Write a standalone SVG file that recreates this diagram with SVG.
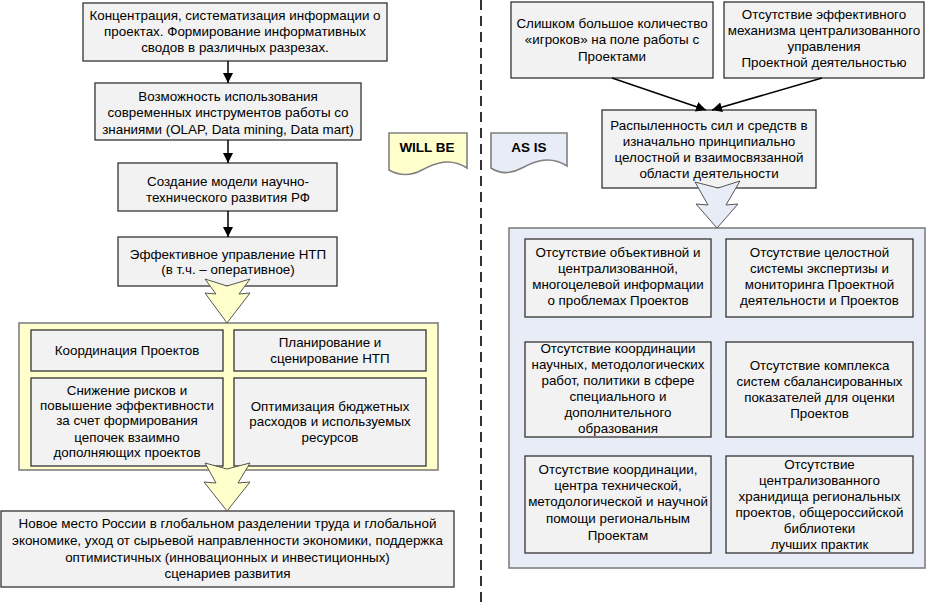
<svg xmlns="http://www.w3.org/2000/svg" width="927" height="607" viewBox="0 0 927 607">
<defs>
<style>
text{font-family:"Liberation Sans",Arial,sans-serif;font-size:13.4px;fill:#000;text-anchor:middle}
.box{fill:#F2F2F2;stroke:#333;stroke-width:1.3}
.ycont{fill:#FFFFCC;stroke:#808080;stroke-width:1.6}
.bcont{fill:#E8ECF6;stroke:#808080;stroke-width:1.6}
.ybig{fill:#FFFFCC;stroke:#555;stroke-width:1}
.bbig{fill:#E8ECF6;stroke:#555;stroke-width:1}
.con{stroke:#000;stroke-width:1.5;fill:none}
.tag{font-weight:bold;font-size:13.5px}
</style>
<marker id="ah" viewBox="0 0 10 10" refX="10" refY="5" markerWidth="10" markerHeight="10" markerUnits="userSpaceOnUse" orient="auto">
<path d="M0,0 L10,5 L0,10 Z" fill="#000"/>
</marker>
</defs>
<rect width="927" height="607" fill="#fff"/>

<line x1="481" y1="0" x2="481" y2="607" stroke="#000" stroke-width="1.6" stroke-dasharray="10,6"/>

<g id="tag-willbe">
<path d="M389,133 H467 V168 C450,157 435,163 422,170 C407,178 396,174 389,170 Z" class="ycont"/>
<text x="427" y="152" class="tag">WILL BE</text>
</g>
<g id="tag-asis">
<path d="M491,133 H567 V166 C550,155 535,161 522,168 C507,176 497,172 491,168 Z" class="bcont"/>
<text x="529" y="152" class="tag">AS IS</text>
</g>

<g id="b1"><rect x="83" y="3" width="304" height="58" class="box"/>
<text x="235" y="20">Концентрация, систематизация информации о</text>
<text x="235" y="36">проектах. Формирование информативных</text>
<text x="235" y="52">сводов в различных разрезах.</text></g>

<g id="b2"><rect x="95" y="83" width="266" height="57" class="box"/>
<text x="228" y="101">Возможность использования</text>
<text x="228" y="117">современных инструментов работы со</text>
<text x="228" y="134">знаниями (OLAP, Data mining, Data mart)</text></g>

<g id="b3"><rect x="118" y="163" width="219" height="48" class="box"/>
<text x="228" y="186">Создание модели научно-</text>
<text x="228" y="202">технического развития РФ</text></g>

<g id="b4"><rect x="118" y="237" width="219" height="49" class="box"/>
<text x="228" y="259">Эффективное управление НТП</text>
<text x="228" y="274">(в т.ч. – оперативное)</text></g>

<g id="ycontainer"><rect x="19" y="323" width="419" height="147" class="ycont"/></g>

<g id="y1"><rect x="31" y="330" width="192" height="41" class="box"/>
<text x="127" y="355">Координация Проектов</text></g>
<g id="y2"><rect x="234" y="330" width="192" height="41" class="box"/>
<text x="330" y="347">Планирование и</text>
<text x="330" y="363">сценирование НТП</text></g>
<g id="y3"><rect x="31" y="378" width="192" height="88" class="box"/>
<text x="127" y="395">Снижение рисков и</text>
<text x="127" y="410">повышение эффективности</text>
<text x="127" y="425">за счет формирования</text>
<text x="127" y="442">цепочек взаимно</text>
<text x="127" y="457">дополняющих проектов</text></g>
<g id="y4"><rect x="234" y="378" width="192" height="88" class="box"/>
<text x="330" y="411">Оптимизация бюджетных</text>
<text x="330" y="426">расходов и используемых</text>
<text x="330" y="442">ресурсов</text></g>

<g id="bottom"><rect x="1" y="511" width="453" height="76" class="box"/>
<text x="227.5" y="528">Новое место России в глобальном разделении труда и глобальной</text>
<text x="227.5" y="545">экономике, уход от сырьевой направленности экономики, поддержка</text>
<text x="227.5" y="562">оптимистичных (инновационных и инвестиционных)</text>
<text x="227.5" y="578">сценариев развития</text></g>

<g id="r1"><rect x="511" y="2" width="202" height="76" class="box"/>
<text x="612" y="28">Слишком большое количество</text>
<text x="612" y="44">«игроков» на поле работы с</text>
<text x="612" y="61">Проектами</text></g>
<g id="r2"><rect x="724" y="2" width="200" height="76" class="box"/>
<text x="824" y="19">Отсутствие эффективного</text>
<text x="824" y="35">механизма централизованного</text>
<text x="824" y="51">управления</text>
<text x="824" y="67">Проектной деятельностью</text></g>
<g id="r3"><rect x="602" y="110" width="214" height="78" class="box"/>
<text x="709" y="130">Распыленность сил и средств в</text>
<text x="709" y="146">изначально принципиально</text>
<text x="709" y="162">целостной и взаимосвязанной</text>
<text x="709" y="178">области деятельности</text></g>

<g id="bcontainer"><rect x="509" y="228" width="416" height="340" class="bcont"/></g>

<g id="c1"><rect x="525" y="239" width="186" height="78" class="box"/>
<text x="618" y="257">Отсутствие объективной и</text>
<text x="618" y="273">централизованной,</text>
<text x="618" y="289">многоцелевой информации</text>
<text x="618" y="305">о проблемах Проектов</text></g>
<g id="c2"><rect x="726" y="239" width="187" height="78" class="box"/>
<text x="819.5" y="257">Отсутствие целостной</text>
<text x="819.5" y="273">системы экспертизы и</text>
<text x="819.5" y="289">мониторинга Проектной</text>
<text x="819.5" y="305">деятельности и Проектов</text></g>
<g id="c3"><rect x="525" y="342" width="186" height="95" class="box"/>
<text x="618" y="353">Отсутствие координации</text>
<text x="618" y="369">научных, методологических</text>
<text x="618" y="385">работ, политики в сфере</text>
<text x="618" y="401">специального и</text>
<text x="618" y="417">дополнительного</text>
<text x="618" y="433">образования</text></g>
<g id="c4"><rect x="726" y="342" width="187" height="95" class="box"/>
<text x="819.5" y="370">Отсутствие комплекса</text>
<text x="819.5" y="386">систем сбалансированных</text>
<text x="819.5" y="402">показателей для оценки</text>
<text x="819.5" y="418">Проектов</text></g>
<g id="c5"><rect x="525" y="456" width="186" height="97" class="box"/>
<text x="618" y="474">Отсутствие координации,</text>
<text x="618" y="490">центра технической,</text>
<text x="618" y="506">методологической и научной</text>
<text x="618" y="523">помощи региональным</text>
<text x="618" y="540">Проектам</text></g>
<g id="c6"><rect x="726" y="456" width="187" height="97" class="box"/>
<text x="819.5" y="469">Отсутствие</text>
<text x="819.5" y="485">централизованного</text>
<text x="819.5" y="501">хранидища региональных</text>
<text x="819.5" y="517">проектов, общероссийской</text>
<text x="819.5" y="533">библиотеки</text>
<text x="819.5" y="549">лучших практик</text></g>

<g id="connectors">
<line x1="228" y1="61" x2="228" y2="83" class="con" marker-end="url(#ah)"/>
<line x1="228" y1="140" x2="228" y2="163" class="con" marker-end="url(#ah)"/>
<line x1="228" y1="211" x2="228" y2="237" class="con" marker-end="url(#ah)"/>
<line x1="612" y1="78" x2="706" y2="110" class="con" marker-end="url(#ah)"/>
<line x1="822" y1="78" x2="712" y2="110" class="con" marker-end="url(#ah)"/>
<path class="ybig" d="M205,279 L227,286 L250,279 L239,294 L250,293 L227,323 L205,293 L216,294 Z"/>
<path class="ybig" d="M205,463 L227,469 L250,463 L238,483 L250,482 L227,511 L204,482 L216,483 Z"/>
<path class="bbig" d="M695,182 L718,188 L740,181 L726,205 L738,204 L717,228 L696,204 L708,205 Z"/>
</g>
</svg>
